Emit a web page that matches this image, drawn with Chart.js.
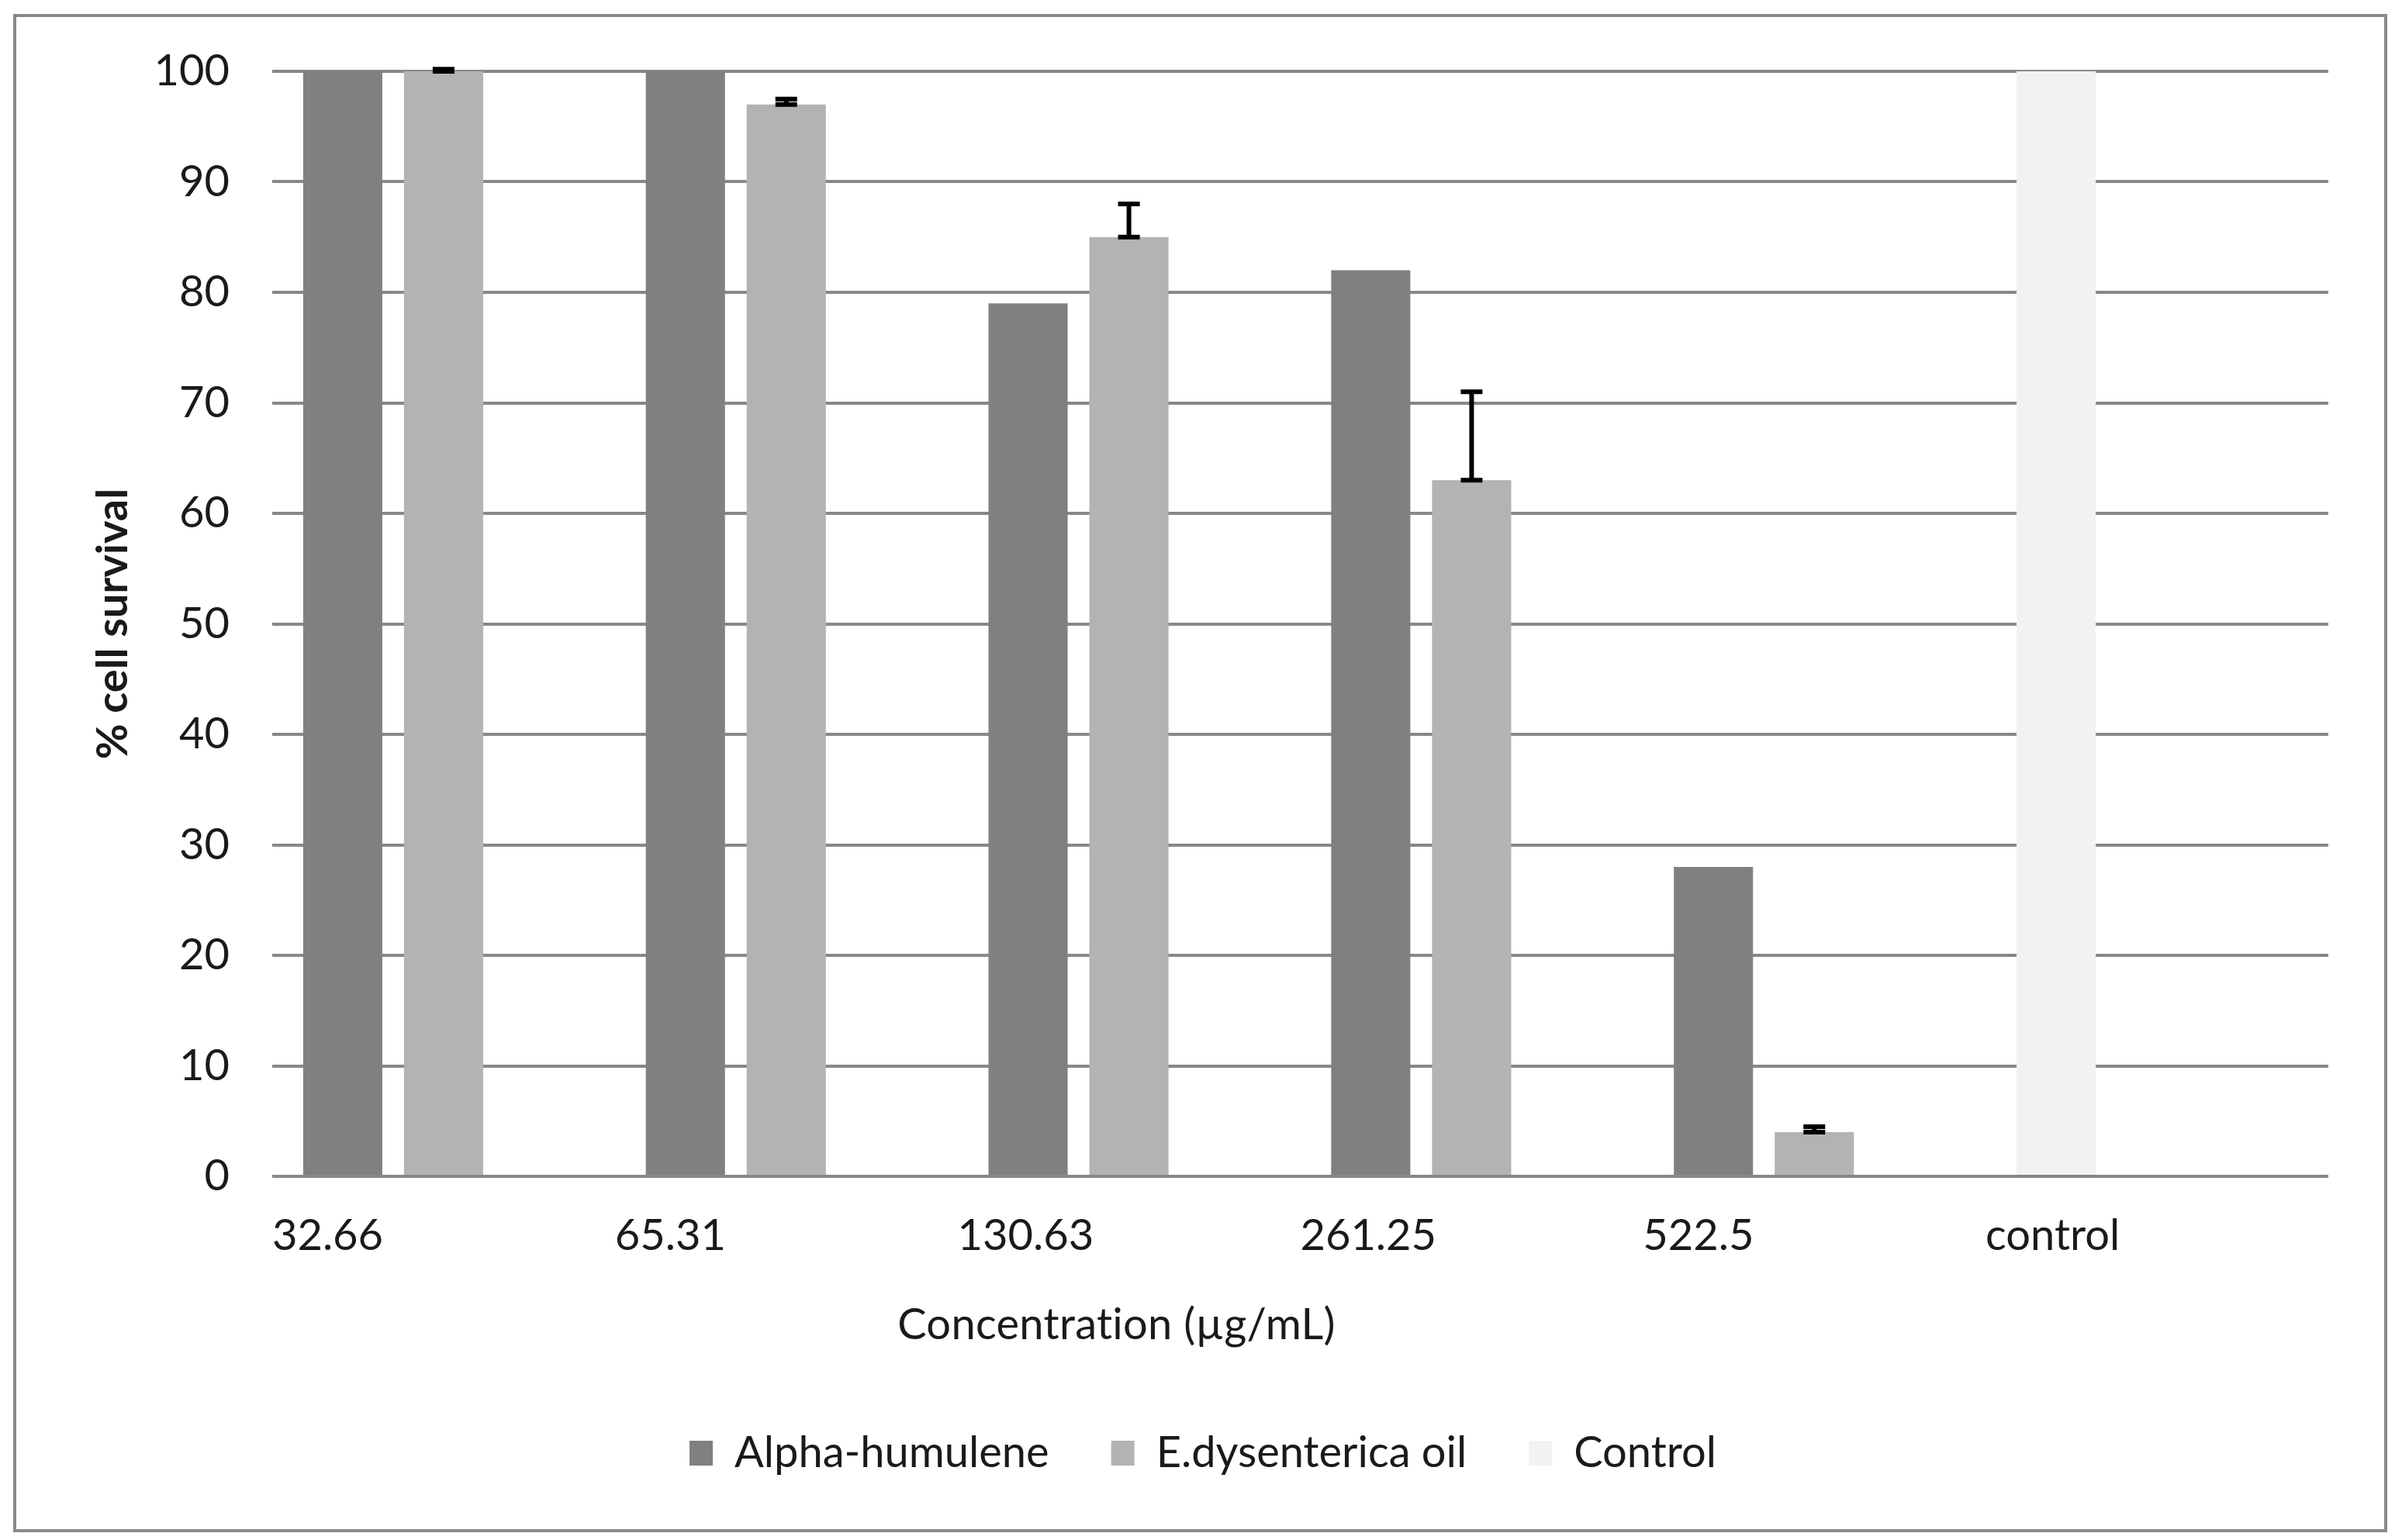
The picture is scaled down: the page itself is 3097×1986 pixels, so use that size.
<!DOCTYPE html>
<html>
<head>
<meta charset="utf-8">
<script src="https://cdn.jsdelivr.net/npm/chart.js@4.4.0/dist/chart.umd.min.js"></script>
<style>
  html, body { margin: 0; padding: 0; background: #fff; }
  #frame {
    position: absolute; left: 17px; top: 18px;
    width: 3053px; height: 1950px;
    border: 4px solid #8a8a8a;
  }
  #chart { position: absolute; left: 0; top: 0; }
</style>
</head>
<body>
<div id="frame"></div>
<canvas id="chart" width="3097" height="1986"></canvas>
<script>
// Data
const categories = ["32.66", "65.31", "130.63", "261.25", "522.5", "control"];
const alphaHumulene = [100, 100, 79, 82, 28, null];
const eDysentericaOil = [100, 97, 85, 63, 4, null];
const eDysentericaErr = [0.2, 0.5, 3, 8, 0.5, null];
const controlValues = [null, null, null, null, null, 100];
const yTicks = [0, 10, 20, 30, 40, 50, 60, 70, 80, 90, 100];
const xTitle = "Concentration (µg/mL)";

const DARK = "#808080";
const LIGHT = "#b3b3b3";
const PALE = "#f2f2f2";
const TEXT = "#1a1a1a";
const FONT = "Lato";

// control value sits in the first slot like the original sheet
const firstSlot = alphaHumulene.map((v, i) => (v !== null ? v : controlValues[i]));
const firstSlotColors = alphaHumulene.map((v) => (v !== null ? DARK : PALE));

// error bars on the oil series (plus direction only)
const errorBars = {
  id: "errorBars",
  afterDatasetsDraw(chart) {
    const ctx = chart.ctx;
    const y = chart.scales.y;
    const meta = chart.getDatasetMeta(1);
    ctx.save();
    ctx.strokeStyle = "#000";
    ctx.lineWidth = 6;
    meta.data.forEach((bar, i) => {
      const v = eDysentericaOil[i];
      const e = eDysentericaErr[i];
      if (v === null || e === null) return;
      const y0 = y.getPixelForValue(v);
      const y1 = y.getPixelForValue(v + e);
      const half = 14;
      ctx.beginPath();
      ctx.moveTo(bar.x, y0);
      ctx.lineTo(bar.x, y1);
      ctx.moveTo(bar.x - half, y0);
      ctx.lineTo(bar.x + half, y0);
      ctx.moveTo(bar.x - half, y1);
      ctx.lineTo(bar.x + half, y1);
      ctx.stroke();
    });
    ctx.restore();
  },
};

// x axis title sits left of centre in the original, so draw it here
const xAxisTitle = {
  id: "xAxisTitle",
  afterDraw(chart) {
    const ctx = chart.ctx;
    const xs = chart.scales.x;
    const area = chart.chartArea;
    ctx.save();
    ctx.font = `56px ${FONT}`;
    ctx.fillStyle = TEXT;
    ctx.textAlign = "center";
    ctx.textBaseline = "middle";
    if ("letterSpacing" in ctx) ctx.letterSpacing = "0.3px";
    ctx.fillText(xTitle, (area.left + area.right) / 2 - 237, xs.bottom - 57);
    ctx.restore();
  },
};

Chart.defaults.font.family = FONT;
Chart.defaults.color = TEXT;

new Chart(document.getElementById("chart"), {
  type: "bar",
  data: {
    labels: categories,
    datasets: [
      {
        label: "Alpha-humulene",
        data: firstSlot,
        backgroundColor: firstSlotColors,
      },
      {
        label: "E.dysenterica oil",
        data: eDysentericaOil,
        backgroundColor: LIGHT,
      },
      {
        label: "Control",
        data: categories.map(() => null),
        backgroundColor: PALE,
      },
    ],
  },
  options: {
    responsive: false,
    animation: false,
    categoryPercentage: 0.883,
    barPercentage: 0.785,
    layout: { padding: { left: 100, right: 95, top: 92, bottom: 74 } },
    plugins: {
      legend: {
        position: "bottom",
        labels: {
          boxWidth: 30,
          boxHeight: 32,
          padding: 80,
          font: { size: 56 },
          color: TEXT,
        },
      },
      tooltip: { enabled: false },
    },
    scales: {
      x: {
        afterFit: (scale) => { scale.height = 249; },
        grid: { display: false, drawTicks: false },
        border: { display: false },
        ticks: {
          align: "start",
          labelOffset: -221,
          padding: 43,
          font: { size: 56 },
          maxRotation: 0,
        },
        title: { display: false },
      },
      y: {
        min: 0,
        max: 100,
        afterFit: (scale) => { scale.width = 251; },
        afterBuildTicks: (axis) => {
          axis.ticks = yTicks.map((v) => ({ value: v }));
        },
        grid: { color: "#888888", lineWidth: 4, drawTicks: false },
        border: { display: false },
        ticks: { padding: 55, font: { size: 56 } },
        title: {
          display: true,
          text: "% cell survival",
          font: { size: 56, weight: "bold" },
          padding: { top: 12, bottom: 0 },
        },
      },
    },
  },
  plugins: [errorBars, xAxisTitle],
});
</script>
</body>
</html>
